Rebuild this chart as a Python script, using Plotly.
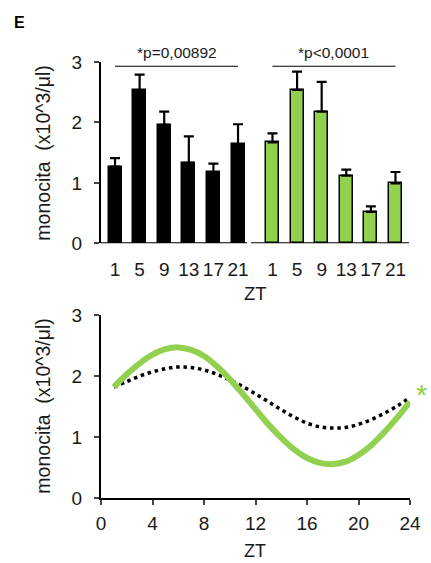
import plotly.graph_objects as go

# ---- data ----
zt_labels = ["1", "5", "9", "13", "17", "21"]

# bar chart: mean monocyte counts and SEM per ZT, two groups
ctrl_mean = [1.27, 2.53, 1.96, 1.33, 1.18, 1.64]
ctrl_sem = [0.14, 0.26, 0.22, 0.44, 0.14, 0.33]
treat_mean = [1.67, 2.54, 2.18, 1.12, 0.52, 0.99]
treat_sem = [0.15, 0.30, 0.49, 0.10, 0.09, 0.19]

p_ctrl = "*p=0,00892"
p_treat = "*p<0,0001"

# fitted rhythm curves, sampled every hour
fit_hours = list(range(1, 25))
ctrl_fit = [1.82, 1.91, 2.00, 2.07, 2.12, 2.15, 2.14, 2.10, 2.03, 1.94, 1.83, 1.71,
            1.58, 1.45, 1.33, 1.23, 1.17, 1.15, 1.16, 1.21, 1.29, 1.39, 1.51, 1.65]
treat_fit = [1.82, 2.03, 2.21, 2.35, 2.44, 2.47, 2.43, 2.33, 2.16, 1.95, 1.71, 1.46,
             1.21, 0.99, 0.80, 0.66, 0.58, 0.56, 0.60, 0.71, 0.87, 1.08, 1.32, 1.58]

x_ticks_bottom = [0, 4, 8, 12, 16, 20, 24]
y_ticks = [0, 1, 2, 3]

# ---- style ----
GREEN = "#92D050"
FONT = "Liberation Sans, Arial, sans-serif"
TXT = "#1a1a1a"
W, H = 431, 563
ytitle = "monocita  (x10^3/\u03bcl)"

# bar slots: second group shifted right to leave a gap
group_gap = 6.4
pos_ctrl = [i for i in range(len(zt_labels))]
pos_treat = [i + group_gap for i in range(len(zt_labels))]
bar_w = 0.53

# pixel frame of the two panels
TOP_Y3, TOP_Y0 = 62, 243.3
BOT_Y3, BOT_Y0 = 315, 498.3
X_LEFT = 101

fig = go.Figure()

fig.add_trace(go.Bar(
    x=pos_ctrl, y=ctrl_mean, width=bar_w,
    marker=dict(color="black", line=dict(color="black", width=1.5)),
    error_y=dict(type="data", symmetric=False, array=ctrl_sem,
                 arrayminus=[0] * len(ctrl_sem), color="black", thickness=2.2, width=5),
    xaxis="x", yaxis="y",
))
fig.add_trace(go.Bar(
    x=pos_treat, y=treat_mean, width=bar_w,
    marker=dict(color=GREEN, line=dict(color="black", width=1.5)),
    error_y=dict(type="data", symmetric=False, array=treat_sem,
                 arrayminus=[0] * len(treat_sem), color="black", thickness=2.2, width=5),
    xaxis="x", yaxis="y",
))

fig.add_trace(go.Scatter(
    x=fit_hours, y=ctrl_fit, mode="lines",
    line=dict(color="black", width=3.5, dash="3.5px,3.8px", shape="spline"),
    xaxis="x2", yaxis="y2",
))
fig.add_trace(go.Scatter(
    x=fit_hours, y=treat_fit, mode="lines",
    line=dict(color=GREEN, width=6, shape="spline"),
    xaxis="x2", yaxis="y2",
))

x_lo, x_hi = -0.57, 11.95
axis_common = dict(showgrid=False, zeroline=False,
                   tickfont=dict(family=FONT, size=19, color=TXT))

fig.update_layout(
    width=W, height=H,
    margin=dict(l=0, r=0, t=0, b=0, autoexpand=False),
    paper_bgcolor="white", plot_bgcolor="white",
    showlegend=False,
    bargap=0,
    xaxis=dict(domain=[X_LEFT / W, 409 / W], range=[x_lo, x_hi],
               tickvals=pos_ctrl + pos_treat, ticktext=zt_labels + zt_labels,
               ticks="outside", ticklen=8, tickcolor="rgba(0,0,0,0)",
               showline=False, anchor="y", ticklabelstandoff=1, **axis_common),
    yaxis=dict(domain=[1 - TOP_Y0 / H, 1 - TOP_Y3 / H], range=[0, 3], tickvals=y_ticks,
               ticks="outside", ticklen=5, tickwidth=2, showline=True, linewidth=2,
               linecolor="black", anchor="x", ticklabelstandoff=8, **axis_common),
    xaxis2=dict(domain=[X_LEFT / W, 410 / W], range=[0, 24], tickvals=x_ticks_bottom,
                ticks="outside", ticklen=5, tickwidth=2, showline=True, linewidth=2,
                linecolor="black", anchor="y2", ticklabelstandoff=2, **axis_common),
    yaxis2=dict(domain=[1 - BOT_Y0 / H, 1 - BOT_Y3 / H], range=[0, 3], tickvals=y_ticks,
                ticks="outside", ticklen=5, tickwidth=2, showline=True, linewidth=2,
                linecolor="black", anchor="x2", ticklabelstandoff=8, **axis_common),
)

# baseline of the bar chart, broken between the two groups
fig.add_shape(type="line", xref="x", yref="y", x0=x_lo, x1=5.37, y0=0, y1=0,
              line=dict(color="black", width=2))
fig.add_shape(type="line", xref="x", yref="y", x0=5.53, x1=x_hi, y0=0, y1=0,
              line=dict(color="black", width=2))

# significance brackets
for pos, label in ((pos_ctrl, p_ctrl), (pos_treat, p_treat)):
    fig.add_shape(type="line", xref="x", yref="y", x0=pos[0], x1=pos[-1],
                  y0=2.93, y1=2.93, line=dict(color="black", width=1.2))
    fig.add_annotation(x=(pos[0] + pos[-1]) / 2, y=1 - 52.5 / H, xref="x", yref="paper",
                       text=label, showarrow=False, yanchor="middle",
                       font=dict(family=FONT, size=15.5, color=TXT))

# axis titles
for yc in ((TOP_Y0 + TOP_Y3) / 2 + 1, (BOT_Y0 + BOT_Y3) / 2):
    fig.add_annotation(x=43 / W, y=1 - yc / H, xref="paper", yref="paper",
                       text=ytitle, textangle=-90, showarrow=False,
                       xanchor="center", yanchor="middle",
                       font=dict(family=FONT, size=19.5, color=TXT))
fig.add_annotation(x=255 / W, y=1 - 293 / H, xref="paper", yref="paper",
                   text="ZT", showarrow=False, xanchor="center", yanchor="middle",
                   font=dict(family=FONT, size=18.5, color=TXT))
fig.add_annotation(x=255 / W, y=0, xref="paper", yref="paper",
                   text="ZT", showarrow=False, xanchor="center", yanchor="bottom",
                   font=dict(family=FONT, size=18, color=TXT))

# significance marker for the fitted rhythm
fig.add_annotation(x=421 / W, y=1 - 395 / H, xref="paper", yref="paper", text="*",
                   showarrow=False, xanchor="center", yanchor="middle",
                   font=dict(family=FONT, size=29, color=GREEN))

# panel letter
fig.add_annotation(x=19 / W, y=1 - 22.5 / H, xref="paper", yref="paper", text="<b>E</b>",
                   showarrow=False, xanchor="center", yanchor="middle",
                   font=dict(family=FONT, size=16, color="black"))

fig.write_html("out.html")
